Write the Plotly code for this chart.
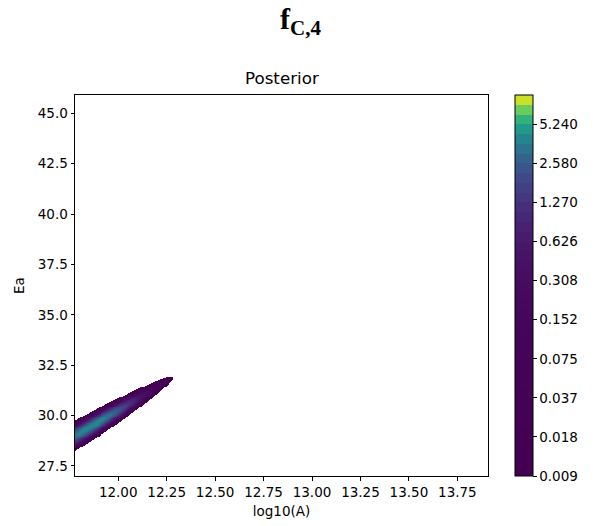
import numpy as np
import plotly.graph_objects as go
from plotly.colors import sample_colorscale

# ---- axis extents (grid / prior ranges) ----
x_range = [11.777, 13.908]   # log10(A)
y_range = [27.0, 45.91]      # Ea
x_ticks = [12.00, 12.25, 12.50, 12.75, 13.00, 13.25, 13.50, 13.75]
y_ticks = [27.5, 30.0, 32.5, 35.0, 37.5, 40.0, 42.5, 45.0]

# ---- posterior shape parameters ----
peak_x = 11.875          # log10(A) of the ridge maximum
peak_ea = 29.54          # Ea of the ridge maximum
peak_value = 4.3         # visible peak density
sigma_left = 0.15        # along-ridge spread, left of peak
sigma_right = 0.116      # along-ridge spread, right of peak
ridge_slope = 5.7        # dEa / dlog10(A) along the ridge
width_at_peak = 0.205    # cross-ridge spread (Ea) at the peak
width_slope = -0.158     # change of the cross-ridge spread with log10(A)

# ---- contour levels (log spaced, 40 levels over 3 decades) ----
level_max = 8.918
n_levels = 40
decades = 3
cbar_labels = ["0.009", "0.018", "0.037", "0.075", "0.152",
               "0.308", "0.626", "1.270", "2.580", "5.240"]

# viridis reference stops
viridis = [[0.0, "#440154"], [0.1, "#482475"], [0.2, "#414487"], [0.3, "#355f8d"],
           [0.4, "#2a788e"], [0.5, "#21918c"], [0.6, "#22a884"], [0.7, "#44bf70"],
           [0.8, "#7ad151"], [0.9, "#bddf26"], [1.0, "#fde725"]]

# ---- build the surface ----
xs = np.linspace(x_range[0], x_range[1], 430)
ys = np.linspace(y_range[0], y_range[1], 420)
X, Y = np.meshgrid(xs, ys)
sig = np.where(X < peak_x, sigma_left, sigma_right)
s = (X - peak_x) / sig
ridge = peak_ea + ridge_slope * (X - peak_x)
width = np.clip(width_at_peak + width_slope * (X - peak_x), 0.02, None)
q = (Y - ridge) / width
dens = peak_value * np.exp(-0.5 * s ** 2 - 0.5 * q ** 2)

levels = level_max * 10 ** np.linspace(-decades, 0, n_levels)
idx = np.arange(n_levels, dtype=float)
z = np.interp(dens, levels, idx)
z[dens < levels[0]] = np.nan

# band colours as matplotlib contourf does: linear norm of band midpoints
mids = 0.5 * (levels[:-1] + levels[1:])
norm = (mids - levels[0]) / (levels[-1] - levels[0])
band_colors = sample_colorscale(viridis, list(norm))
nb = n_levels - 1
cscale = []
for k, c in enumerate(band_colors):
    cscale.append([k / nb, c])
    cscale.append([(k + 1) / nb, c])

fig = go.Figure()
fig.add_trace(go.Heatmap(
    x=xs, y=ys, z=z, zmin=0, zmax=nb, colorscale=cscale, zsmooth=False,
    hoverongaps=False,
    colorbar=dict(
        x=1.0653, xanchor="left", xref="paper", y=0.5, yanchor="middle",
        len=1.0, lenmode="fraction", thickness=18, thicknessmode="pixels",
        xpad=0, ypad=0,
        outlinewidth=1, outlinecolor="black",
        tickmode="array", tickvals=idx[::4][:len(cbar_labels)].tolist(),
        ticktext=cbar_labels, ticks="outside", ticklen=3.5, tickwidth=1,
        tickcolor="black", tickfont=dict(size=13.5, color="black"),
    ),
))

axis_common = dict(showline=True, linecolor="black", linewidth=1, mirror=True,
                   ticks="outside", ticklen=3.5, tickwidth=1, tickcolor="black",
                   showgrid=False, zeroline=False,
                   tickfont=dict(size=13.5, color="black"))
fig.update_xaxes(range=x_range, tickmode="array", tickvals=x_ticks, tickformat=".2f",
                 title=dict(text="log10(A)", standoff=7, font=dict(size=13.5, color="black")),
                 **axis_common)
fig.update_yaxes(range=y_range, tickmode="array", tickvals=y_ticks, tickformat=".1f",
                 title=dict(text="Ea", standoff=10, font=dict(size=13.5, color="black")),
                 **axis_common)

fig.add_annotation(text="Posterior", x=0.5, y=1, xref="paper", yref="paper",
                   xanchor="center", yanchor="bottom", yshift=5, showarrow=False,
                   font=dict(size=16.7, color="black"))

fig.update_layout(
    width=595, height=526,
    margin=dict(l=75, r=106.7, t=94.7, b=50, autoexpand=False),
    paper_bgcolor="white", plot_bgcolor="white",
    font=dict(family="DejaVu Sans", size=13.5, color="black"),
    title=dict(text="<b>f<sub>C,4</sub></b>", x=0.505, xref="container", xanchor="center",
               y=0.985, yref="container", yanchor="top",
               font=dict(family="Liberation Serif", size=30, color="black")),
)

fig.write_html("out.html")
